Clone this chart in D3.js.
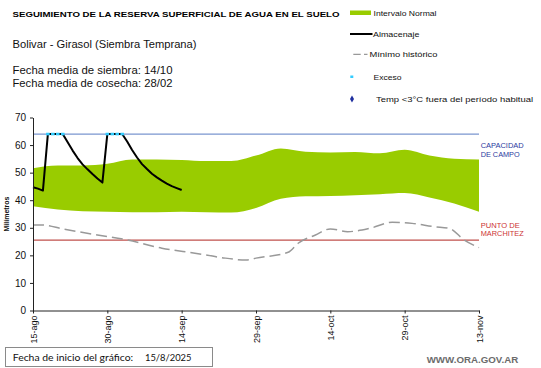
<!DOCTYPE html>
<html><head><meta charset="utf-8">
<script src="https://cdn.jsdelivr.net/npm/d3@7"></script>
<style>
html,body{margin:0;padding:0;background:#fff;}
svg{display:block;font-family:"Liberation Sans",Arial,sans-serif;}
</style></head>
<body>
<svg id="chart" width="541" height="368"></svg>
<script>
// ---------- DATA ----------
const tickDays = [0, 15, 30, 45, 60, 75, 90];
const tickLabels = ["15-ago", "30-ago", "14-sep", "29-sep", "14-oct", "29-oct", "13-nov"];
const yTicks = [0, 10, 20, 30, 40, 50, 60, 70];

const bandDays    = [0, 5, 10, 15, 20, 25, 30, 35, 40, 45, 50, 55, 60, 65, 70, 75, 80, 85, 90];
const normalUpper = [51.6, 52.6, 52.6, 53.2, 54.8, 54.8, 54.6, 54.2, 54.2, 56.2, 58.8, 57.6, 57.3, 57.5, 57.0, 58.3, 56.2, 55.0, 54.8];
const normalLower = [37.8, 36.6, 36.0, 35.8, 35.6, 35.6, 35.8, 35.6, 35.5, 37.2, 40.5, 41.4, 41.5, 41.8, 42.2, 42.6, 41.0, 38.8, 35.8];

const almDays = [0,1,2,3,4,5,6,7,8,9,10,11,12,13,14,15,16,17,18,19,20,21,22,23,24,25,26,27,28,29,30];
const almacenaje = [44.7,44.2,43.5,64,64,64,64,61,58,55.3,53,51.2,49.5,47.9,46.4,64,64,64,64,61.3,58.2,55.5,53.1,51.3,49.6,48.3,47.1,46,45.1,44.4,43.7];

const excesoDays = [3, 4, 5, 6, 15, 16, 17, 18];
const excesoVals = [64, 64, 64, 64, 64, 64, 64, 64];

const minDays = [0, 2, 6, 13, 19, 26, 33, 38, 43, 45, 51.5, 53.5, 57, 60, 63.5, 68, 72.5, 76.5, 81, 84, 87, 90];
const minVals = [31.0, 31.0, 29.6, 27.4, 25.6, 22.6, 20.7, 19.2, 18.3, 19.0, 21.1, 24.4, 27.4, 29.6, 28.6, 29.8, 32.0, 31.6, 30.4, 29.8, 25.6, 22.8];

const capacidadCampo = 64;
const puntoMarchitez = 25.5;

// ---------- CHART ----------
const svg = d3.select("#chart");
const x = d3.scaleLinear().domain([0, 90]).range([33, 479]);
const y = d3.scaleLinear().domain([0, 70]).range([310.5, 117.5]);

function txt(str, px, py, size, opts = {}) {
  const t = svg.append("text").attr("x", px).attr("y", py)
    .attr("font-size", size).attr("fill", opts.fill || "#000")
    .attr("font-weight", opts.bold ? "bold" : "normal")
    .text(str);
  if (opts.family) t.attr("font-family", opts.family);
  if (opts.len) t.attr("textLength", opts.len).attr("lengthAdjust", "spacingAndGlyphs");
  return t;
}

// Titles
txt("SEGUIMIENTO DE LA RESERVA  SUPERFICIAL DE AGUA EN EL SUELO", 12.5, 17.3, 8, {bold: true, len: 327});
txt("Bolivar  - Girasol (Siembra Temprana)", 12.5, 47.5, 10.5, {len: 184, fill: "#111"});
txt("Fecha media de siembra: 14/10", 12.5, 74, 10.5, {len: 160, fill: "#111"});
txt("Fecha media de cosecha: 28/02", 12.5, 86.7, 10.5, {len: 160, fill: "#111"});

// Legend
svg.append("rect").attr("x", 350).attr("y", 10.5).attr("width", 21).attr("height", 4.5).attr("fill", "#99cc00");
txt("Intervalo Normal", 373.5, 15.7, 8, {len: 63, fill: "#111"});
svg.append("line").attr("x1", 350).attr("x2", 372.5).attr("y1", 34).attr("y2", 34).attr("stroke", "#000").attr("stroke-width", 2);
txt("Almacenaje", 373, 36.7, 8, {len: 46.5, fill: "#111"});
svg.append("line").attr("x1", 353.3).attr("x2", 367.5).attr("y1", 54.3).attr("y2", 54.3).attr("stroke", "#999").attr("stroke-width", 1.2).attr("stroke-dasharray", "7.4,3.3");
txt("Mínimo histórico", 369.5, 56.9, 8, {len: 68, fill: "#111"});
svg.append("rect").attr("x", 350.3).attr("y", 75.5).attr("width", 3).attr("height", 2.5).attr("fill", "#33ccff");
txt("Exceso", 373.5, 80, 8, {len: 28, fill: "#111"});
svg.append("path").attr("d", d3.symbol(d3.symbolDiamond, 14)()).attr("transform", "translate(352,99)").attr("fill", "#1f2f9f");
txt("Temp <3°C fuera del período habitual", 376, 101.7, 8, {len: 157, fill: "#111"});

// Normal band
const area = d3.area().x((d, i) => x(bandDays[i])).y0((d, i) => y(normalLower[i])).y1((d, i) => y(normalUpper[i])).curve(d3.curveMonotoneX);
svg.append("path").datum(bandDays).attr("d", area).attr("fill", "#99cc00");

// Reference lines
svg.append("line").attr("x1", x(0)).attr("x2", x(90)).attr("y1", y(capacidadCampo)).attr("y2", y(capacidadCampo)).attr("stroke", "#7a96cf").attr("stroke-width", 1.2);
svg.append("line").attr("x1", x(0)).attr("x2", x(90)).attr("y1", y(puntoMarchitez)).attr("y2", y(puntoMarchitez)).attr("stroke", "#c0504d").attr("stroke-width", 1.2);

// Minimum historic
const minLine = d3.line().x((d, i) => x(minDays[i])).y((d, i) => y(minVals[i])).curve(d3.curveMonotoneX);
svg.append("path").datum(minDays).attr("d", minLine).attr("fill", "none").attr("stroke", "#999").attr("stroke-width", 1.5).attr("stroke-dasharray", "11,5");

// Almacenaje
const almLine = d3.line().x((d, i) => x(almDays[i])).y((d, i) => y(almacenaje[i]));
svg.append("path").datum(almDays).attr("d", almLine).attr("fill", "none").attr("stroke", "#000").attr("stroke-width", 2).attr("stroke-linejoin", "round");

// Exceso markers
svg.selectAll("rect.exc").data(excesoDays).enter().append("rect").attr("class", "exc")
  .attr("x", (d) => x(d) - 1.8).attr("y", (d, i) => y(excesoVals[i]) - 1.3)
  .attr("width", 3.6).attr("height", 2.6).attr("fill", "#33ccff");

// Axes
const yAxis = svg.append("g").attr("transform", `translate(${x(0)},0)`)
  .call(d3.axisLeft(y).tickValues(yTicks).tickSize(3).tickSizeOuter(0).tickPadding(4));
yAxis.select(".domain").attr("stroke", "#222");
yAxis.selectAll(".tick line").attr("stroke", "#222");
yAxis.selectAll("text").attr("font-size", 10).attr("font-family", "Liberation Sans, Arial, sans-serif").attr("fill", "#111");

const xAxis = svg.append("g").attr("transform", `translate(0,${y(0)})`)
  .call(d3.axisBottom(x).tickValues(tickDays).tickFormat((d, i) => tickLabels[i]).tickSize(3).tickSizeOuter(0));
xAxis.select(".domain").attr("stroke", "#222");
xAxis.selectAll(".tick line").attr("stroke", "#222");
xAxis.selectAll("text").attr("font-size", 9).attr("font-family", "Liberation Sans, Arial, sans-serif").attr("fill", "#111")
  .attr("transform", "rotate(-90)").attr("text-anchor", "end").attr("x", -5).attr("y", 0).attr("dy", "0.35em");

// Y axis title
svg.append("text").attr("transform", "translate(9,214) rotate(-90)").attr("text-anchor", "middle")
  .attr("font-size", 7).attr("font-weight", "bold").attr("fill", "#111").text("Milímetros");

// Right labels
txt("CAPACIDAD", 480.7, 147.7, 7.5, {fill: "#2b3aa0", len: 43});
txt("DE  CAMPO", 480.7, 156.7, 7.5, {fill: "#2b3aa0", len: 39});
txt("PUNTO  DE", 480.7, 227.7, 7.5, {fill: "#cc3333", len: 39});
txt("MARCHITEZ", 480.7, 236.3, 7.5, {fill: "#cc3333", len: 43});

// Bottom box
svg.append("rect").attr("x", 5.5).attr("y", 347.5).attr("width", 207).attr("height", 19).attr("fill", "#fff").attr("stroke", "#8a8a8a").attr("stroke-width", 1);
txt("Fecha de inicio del gráfico:", 12.7, 361, 10, {family: "Lato, sans-serif", len: 120.5, fill: "#111"});
txt("15/8/2025", 145, 361, 10, {family: "Lato, sans-serif", len: 46.5, fill: "#111"});

// Website
txt("WWW.ORA.GOV.AR", 426.7, 363.3, 9, {bold: true, fill: "#6b6b6b", len: 91.5});
</script>
</body></html>
